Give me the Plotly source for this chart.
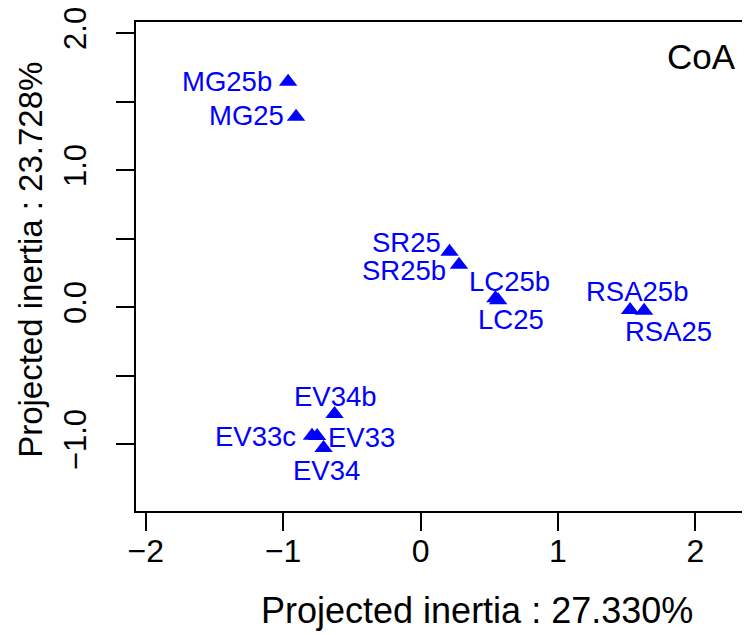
import plotly.graph_objects as go

# ---- data ----
labels = ["MG25b", "MG25", "SR25", "SR25b", "LC25b", "LC25",
          "RSA25b", "RSA25", "EV34b", "EV33c", "EV33", "EV34"]
axis1 = [-0.964, -0.906, 0.211, 0.280, 0.545, 0.565,
         1.525, 1.627, -0.626, -0.790, -0.753, -0.706]
axis2 = [1.645, 1.389, 0.404, 0.309, 0.065, 0.050,
         -0.020, -0.027, -0.779, -0.939, -0.940, -1.027]

x_ticks = [-2, -1, 0, 1, 2]
x_ticktext = ["\u22122", "\u22121", "0", "1", "2"]
y_ticks = [-1.0, -0.5, 0.0, 0.5, 1.0, 1.5, 2.0]
y_ticktext = ["\u22121.0", "", "0.0", "", "1.0", "", "2.0"]

x_title = "Projected inertia : 27.330%"
y_title = "Projected inertia : 23.728%"
panel_label = "CoA"

# label placement (anchor, xshift px, yshift px) -- style only
label_pos = {
    "MG25b": ("right", "middle", -14, 0),
    "MG25": ("right", "middle", -10, 1),
    "SR25": ("right", "middle", -7, 9),
    "SR25b": ("right", "middle", -11, -6),
    "LC25b": ("center", "middle", 14, 17),
    "LC25": ("center", "middle", 13, -19),
    "RSA25b": ("center", "middle", 7, 18),
    "RSA25": ("center", "middle", 24, -21),
    "EV34b": ("center", "middle", 1, 17),
    "EV33c": ("right", "middle", -14, -1),
    "EV33": ("left", "middle", 9, -1),
    "EV34": ("center", "middle", 3, -23),
}

FONT = "Liberation Sans, Arial, Helvetica, sans-serif"
BLUE = "#0000FF"

fig = go.Figure()
fig.add_trace(go.Scatter(
    x=axis1, y=axis2, mode="markers",
    marker=dict(symbol="triangle-up", size=16, color=BLUE, line=dict(width=0)),
    hoverinfo="text", text=labels, showlegend=False,
))

annotations = []
for lab, xv, yv in zip(labels, axis1, axis2):
    xa, ya, dx, dy = label_pos[lab]
    annotations.append(dict(
        x=xv, y=yv, xref="x", yref="y", text=lab, showarrow=False,
        xanchor=xa, yanchor=ya, xshift=dx, yshift=dy,
        font=dict(family=FONT, size=27.5, color=BLUE),
    ))

annotations.append(dict(
    x=0.5546, y=-0.2026, xref="paper", yref="paper", text=x_title,
    showarrow=False, xanchor="center", yanchor="middle",
    font=dict(family=FONT, size=36, color="black"),
))
annotations.append(dict(
    x=-0.171, y=0.5136, xref="paper", yref="paper", text=y_title,
    showarrow=False, xanchor="center", yanchor="middle", textangle=-90,
    font=dict(family=FONT, size=33, color="black"),
))
annotations.append(dict(
    x=0.9218, y=0.929, xref="paper", yref="paper", text=panel_label,
    showarrow=False, xanchor="center", yanchor="middle",
    font=dict(family=FONT, size=35, color="black"),
))

# page body has an 8px default margin; the figure is sized to fill the rest
fig.update_layout(
    width=742, height=627,
    margin=dict(l=128, r=0, t=14, b=124),
    paper_bgcolor="white", plot_bgcolor="white",
    annotations=annotations,
    xaxis=dict(
        range=[-2.071, 2.398], tickvals=x_ticks, ticktext=x_ticktext,
        showgrid=False, zeroline=False,
        showline=True, linecolor="black", linewidth=2, mirror=True,
        ticks="outside", ticklen=18, tickwidth=2, tickcolor="black",
        tickfont=dict(family=FONT, size=32, color="black"),
        ticklabelstandoff=-7, ticklabeloverflow="allow",
    ),
    yaxis=dict(
        range=[-1.487, 2.080], tickvals=y_ticks, ticktext=y_ticktext,
        showgrid=False, zeroline=False,
        showline=True, linecolor="black", linewidth=2, mirror=False,
        ticks="outside", ticklen=18, tickwidth=2, tickcolor="black",
        tickangle=-90,
        tickfont=dict(family=FONT, size=31, color="black"),
        ticklabelstandoff=18, ticklabeloverflow="allow",
    ),
)

fig.write_html("out.html")
